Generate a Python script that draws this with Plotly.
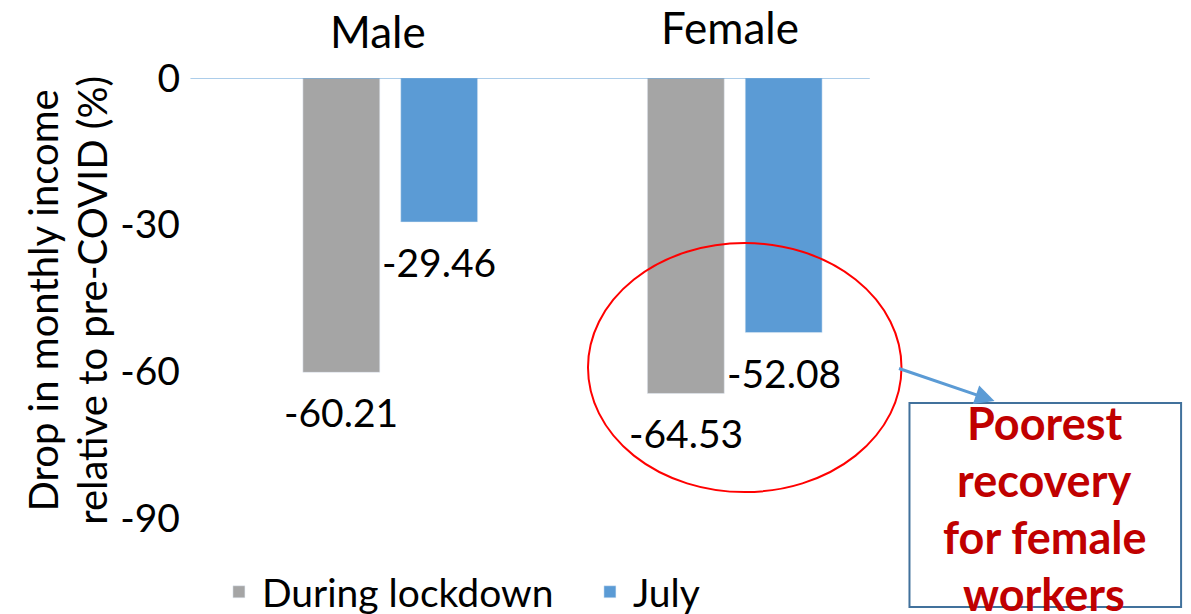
import plotly.graph_objects as go

# chart data
lstGroups = ["Male", "Female"]
lstLockdown = [-60.21, -64.53]
lstJuly = [-29.46, -52.08]
lstTicks = [0, -30, -60, -90]
lstTickText = ["0", "-30", "-60", "-90"]

strFont = "Lato"
colGray = "#A5A5A5"
colBlue = "#5B9BD5"

fig = go.Figure()
fig.add_trace(go.Bar(x=lstGroups, y=lstLockdown, name="During lockdown", marker_color=colGray))
fig.add_trace(go.Bar(x=lstGroups, y=lstJuly, name="July", marker_color=colBlue))

# value labels sit below the end of each bar
for i, strGroup in enumerate(lstGroups):
    for numVal, numShift in ((lstLockdown[i], -49), (lstJuly[i], 49)):
        fig.add_annotation(x=strGroup, y=numVal, text=f"{numVal:.2f}", showarrow=False,
                           xshift=numShift, yshift=-40, font=dict(size=39, color="black", family=strFont))

# group names above the plot
for strGroup, numY, numShift in zip(lstGroups, (1.107, 1.116), (-12, -5)):
    fig.add_annotation(x=strGroup, xref="x", yref="paper", y=numY, text=strGroup, showarrow=False,
                       xshift=numShift, yanchor="middle", font=dict(size=44, color="black", family=strFont))

# zero line across the plot
fig.add_shape(type="line", xref="paper", yref="y", x0=-0.04, x1=0.946, y0=0, y1=0,
              line=dict(color=colBlue, width=1.2))

# red ellipse around female bars
fig.add_shape(type="circle", xref="x", yref="y", x0=0.574, x1=1.484, y0=-84.7, y1=-33.75,
              line=dict(color="red", width=2))

# call-out box
fig.add_shape(type="rect", xref="paper", yref="paper", x0=1.0036, x1=1.3978, y0=-0.2023, y1=0.2614,
              line=dict(color="#41719C", width=2), fillcolor="rgba(0,0,0,0)")
fig.add_annotation(xref="paper", yref="paper", x=1.127, y=0.266, ax=-97, ay=-33,
                   showarrow=True, arrowhead=2, arrowsize=1.3,
                   arrowwidth=3, arrowcolor=colBlue, text="")
lstCallout = ["Poorest", "recovery", "for female", "workers"]
for i, strLine in enumerate(lstCallout):
    fig.add_annotation(xref="paper", yref="paper", x=1.199, y=(518 - (423 + 57 * i)) / 440,
                       xanchor="center", yanchor="middle",
                       text=f"<b>{strLine}</b>", showarrow=False,
                       font=dict(size=45, color="#C00000", family=strFont))

# y-axis title as two rotated lines
for strLine, numX in (("Drop in monthly income", -0.2536), ("relative to pre-COVID (%)", -0.182)):
    fig.add_annotation(xref="paper", yref="paper", x=numX, y=0.495, text=strLine, textangle=-90,
                       xanchor="center", yanchor="middle", showarrow=False,
                       font=dict(size=40, color="black", family=strFont))

# page body adds 8px margin, so the figure is 8px smaller
fig.update_layout(
    width=1183, height=606,
    margin=dict(l=209.5, r=283.5, t=70, b=96, autoexpand=False),
    plot_bgcolor="white", paper_bgcolor="white",
    barmode="group", bargap=0.432, bargroupgap=0.214,
    font=dict(family=strFont, color="black"),
    legend=dict(orientation="h", x=-0.003, y=-0.168, xanchor="left", yanchor="middle",
                font=dict(size=39), itemwidth=36, entrywidth=320, traceorder="normal",
                bgcolor="rgba(0,0,0,0)"),
    showlegend=True,
)
fig.update_xaxes(showticklabels=False, showline=False, ticks="", automargin=False)
fig.update_yaxes(range=[-90, 0], tickvals=lstTicks, ticktext=lstTickText, showgrid=False,
                 zeroline=False, showline=False, tickfont=dict(size=39), ticklabelstandoff=37,
                 automargin=False)

fig.write_html("out.html")
